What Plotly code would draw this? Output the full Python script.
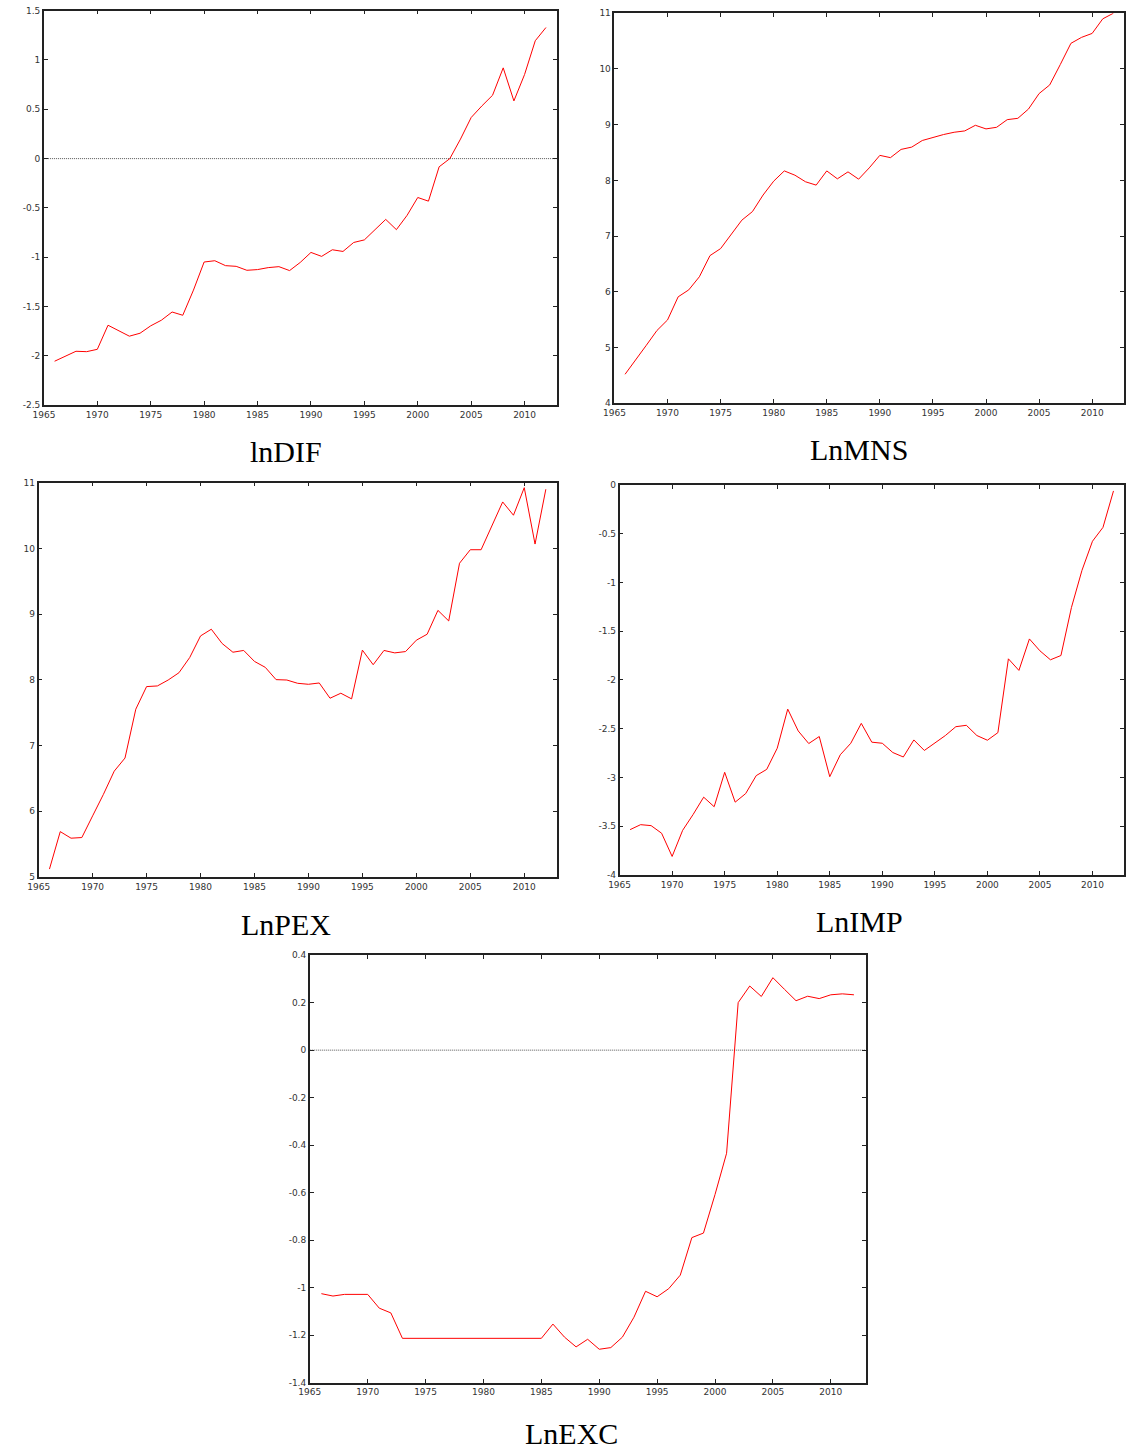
import plotly.graph_objects as go

years = list(range(1966, 2013))

ln_dif = [-2.054, -2.0, -1.953, -1.957, -1.933, -1.689, -1.745, -1.80, -1.77, -1.695,
          -1.638, -1.555, -1.588, -1.333, -1.048, -1.035, -1.085, -1.092, -1.132, -1.125,
          -1.105, -1.095, -1.135, -1.052, -0.951, -0.991, -0.924, -0.941, -0.85, -0.824,
          -0.72, -0.616, -0.72, -0.575, -0.394, -0.431, -0.083, 0.0, 0.198, 0.417,
          0.534, 0.642, 0.92, 0.585, 0.853, 1.195, 1.329]

ln_mns = [4.52, 4.79, 5.04, 5.305, 5.495, 5.91, 6.035, 6.27, 6.65, 6.776,
          7.04, 7.286, 7.44, 7.737, 7.986, 8.17, 8.093, 7.975, 7.915, 8.17,
          8.028, 8.153, 8.022, 8.224, 8.449, 8.408, 8.556, 8.597, 8.716, 8.77,
          8.823, 8.864, 8.888, 8.989, 8.924, 8.953, 9.09, 9.114, 9.28, 9.558,
          9.713, 10.08, 10.46, 10.567, 10.638, 10.9, 11.0]

ln_pex = [5.12, 5.69, 5.59, 5.60, 5.93, 6.257, 6.61, 6.81, 7.553, 7.897,
          7.907, 7.997, 8.108, 8.34, 8.668, 8.77, 8.553, 8.42, 8.447, 8.28,
          8.19, 8.003, 7.997, 7.947, 7.932, 7.952, 7.72, 7.796, 7.71, 8.452,
          8.23, 8.447, 8.41, 8.43, 8.603, 8.694, 9.057, 8.896, 9.774, 9.98,
          9.98, 10.344, 10.707, 10.505, 10.924, 10.066, 10.9]

ln_imp = [-3.535, -3.484, -3.494, -3.572, -3.81, -3.542, -3.379, -3.202, -3.30, -2.947,
          -3.253, -3.165, -2.981, -2.917, -2.70, -2.299, -2.523, -2.652, -2.58, -2.992,
          -2.767, -2.649, -2.445, -2.638, -2.649, -2.744, -2.79, -2.615, -2.723, -2.642,
          -2.57, -2.479, -2.465, -2.57, -2.618, -2.54, -1.783, -1.902, -1.579, -1.701,
          -1.793, -1.749, -1.256, -0.876, -0.577, -0.435, -0.061]

ln_exc = [-1.025, -1.035, -1.028, -1.028, -1.028, -1.086, -1.106, -1.213, -1.213, -1.213,
          -1.213, -1.213, -1.213, -1.213, -1.213, -1.213, -1.213, -1.213, -1.213, -1.213,
          -1.153, -1.208, -1.249, -1.217, -1.259, -1.252, -1.208, -1.124, -1.015, -1.038,
          -1.004, -0.947, -0.789, -0.77, -0.608, -0.434, 0.2, 0.27, 0.226, 0.305,
          0.256, 0.208, 0.227, 0.217, 0.233, 0.237, 0.233]

titles = ["lnDIF", "LnMNS", "LnPEX", "LnIMP", "LnEXC"]
series = [ln_dif, ln_mns, ln_pex, ln_imp, ln_exc]

x_tick_vals = [1965, 1970, 1975, 1980, 1985, 1990, 1995, 2000, 2005, 2010]
x_range = [1965, 2013]

y_ticks = [
    [-2.5, -2, -1.5, -1, -0.5, 0, 0.5, 1, 1.5],
    [4, 5, 6, 7, 8, 9, 10, 11],
    [5, 6, 7, 8, 9, 10, 11],
    [-4, -3.5, -3, -2.5, -2, -1.5, -1, -0.5, 0],
    [-1.4, -1.2, -1, -0.8, -0.6, -0.4, -0.2, 0, 0.2, 0.4],
]
y_tick_text = [
    ["-2.5", "-2", "-1.5", "-1", "-0.5", "0", "0.5", "1", "1.5"],
    ["4", "5", "6", "7", "8", "9", "10", "11"],
    ["5", "6", "7", "8", "9", "10", "11"],
    ["-4", "-3.5", "-3", "-2.5", "-2", "-1.5", "-1", "-0.5", "0"],
    ["-1.4", "-1.2", "-1", "-0.8", "-0.6", "-0.4", "-0.2", "0", "0.2", "0.4"],
]
y_ranges = [[-2.5, 1.5], [4, 11], [5, 11], [-4, 0], [-1.4, 0.4]]

W, H = 1126, 1454
# panel boxes in pixels: left, right, top, bottom
boxes = [
    (33.3, 552, 5.7, 403),
    (610.5, 1127, 8.3, 401),
    (28, 552, 481, 878),
    (615.7, 1126, 483.3, 876),
    (302.3, 864.5, 956.7, 1387.3),
]
title_pos = [(278, 450), (858, 448), (278, 926), (858, 923), (567, 1438)]
zero_line_panels = [0, 4]

fig = go.Figure()
axis_common = dict(
    showgrid=False, zeroline=False, showline=True, linecolor="#222", linewidth=1.6,
    mirror="ticks", ticks="inside", ticklen=4, tickwidth=1, tickcolor="#222",
    tickfont=dict(family="DejaVu Sans", size=9, color="#333"),
)
for i, (ys, box) in enumerate(zip(series, boxes)):
    n = "" if i == 0 else str(i + 1)
    l, r, t, b = box
    fig.add_trace(go.Scatter(x=years, y=ys, mode="lines",
                             line=dict(color="#ff0000", width=1),
                             xaxis="x" + n, yaxis="y" + n, showlegend=False,
                             hoverinfo="skip"))
    fig.layout["xaxis" + n] = dict(
        axis_common, domain=[l / W, min(r / W, 1.0)], range=x_range, anchor="y" + n,
        tickvals=x_tick_vals, ticktext=[str(v) for v in x_tick_vals])
    fig.layout["yaxis" + n] = dict(
        axis_common, domain=[1 - b / H, 1 - t / H], range=y_ranges[i], anchor="x" + n,
        tickvals=y_ticks[i], ticktext=y_tick_text[i])
    if i in zero_line_panels:
        fig.add_shape(type="line", xref="x" + n + " domain", yref="y" + n,
                      x0=0, x1=1, y0=0, y1=0, layer="below",
                      line=dict(color="#555", width=1, dash="1px,1px"))
    tx, ty = title_pos[i]
    fig.add_annotation(text=titles[i], x=tx / W, y=1 - ty / H, xref="paper", yref="paper",
                       xanchor="center", yanchor="middle", showarrow=False,
                       font=dict(family="Liberation Serif", size=30, color="#000"))

fig.update_layout(width=W, height=H, margin=dict(l=0, r=0, t=0, b=0),
                  plot_bgcolor="white", paper_bgcolor="white")
fig.write_html("out.html", config={"displayModeBar": False},
               post_script="document.body.style.margin='0';document.body.style.overflow='hidden';")
